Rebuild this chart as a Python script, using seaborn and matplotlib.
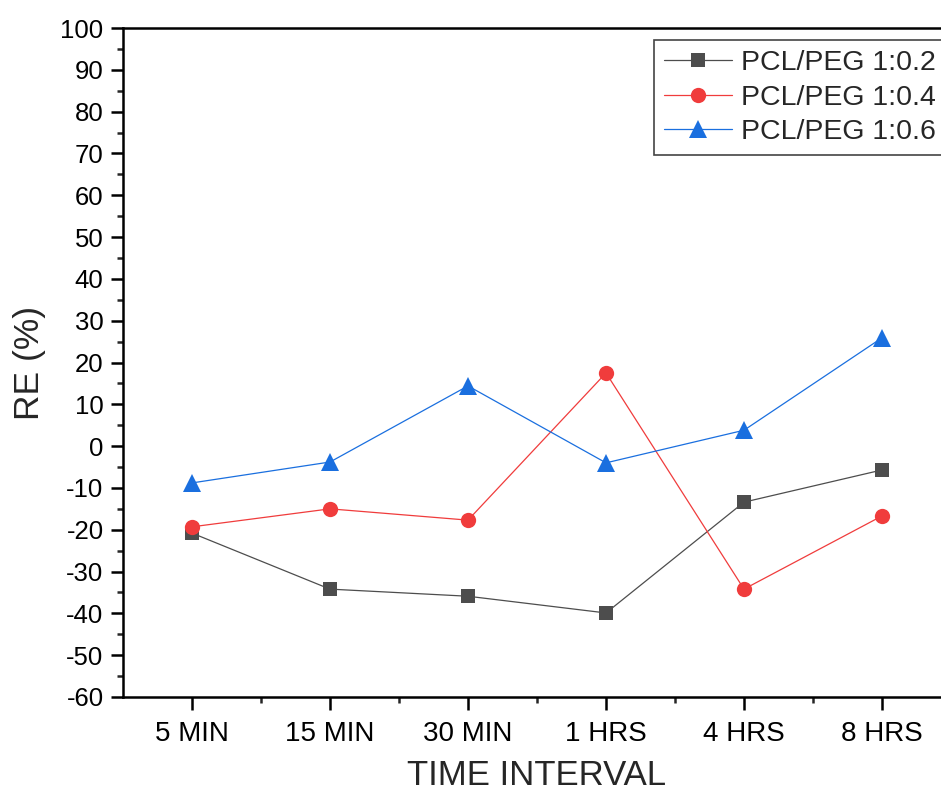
import numpy as np
import pandas as pd
import seaborn as sns
import matplotlib
matplotlib.use("Agg")
import matplotlib.pyplot as plt
from matplotlib.ticker import MultipleLocator, FixedLocator

categories = ["5 MIN", "15 MIN", "30 MIN", "1 HRS", "4 HRS", "8 HRS"]
series_names = ["PCL/PEG 1:0.2", "PCL/PEG 1:0.4", "PCL/PEG 1:0.6"]
re_02 = [-20.8, -34.2, -35.9, -39.9, -13.4, -5.7]
re_04 = [-19.3, -15.0, -17.7, 17.5, -34.2, -16.7]
re_06 = [-8.8, -3.8, 14.4, -4.0, 3.8, 25.9]
y_ticks = list(range(-60, 101, 10))

rows = []
for name, vals in zip(series_names, [re_02, re_04, re_06]):
    for i, v in enumerate(vals):
        rows.append({"x": i, "RE": v, "Series": name})
df = pd.DataFrame(rows)

sns.set_theme(style="ticks")
plt.rcParams["font.family"] = ["Liberation Sans", "DejaVu Sans"]
plt.rcParams["axes.unicode_minus"] = False

fig = plt.figure(figsize=(9.41, 7.95), dpi=100)
W, H = 941, 795
left, right, top, bottom = 123, 951, 28, 697
ax = fig.add_axes([left / W, 1 - bottom / H, (right - left) / W, (bottom - top) / H])

colors = ["#4d4d4d", "#f03c3c", "#1a6fdf"]
markers = ["s", "o", "^"]
msizes = [10, 11, 13]
for name, c, m, ms in zip(series_names, colors, markers, msizes):
    sub = df[df["Series"] == name]
    sns.lineplot(data=sub, x="x", y="RE", color=c, marker=m, markersize=ms,
                 markeredgewidth=0, linewidth=0.9, label=name, ax=ax)

ax.set_xlim(-0.5, 5.5)
ax.set_ylim(-60, 100)
ax.xaxis.set_major_locator(FixedLocator(range(len(categories))))
ax.set_xticklabels(categories)
ax.xaxis.set_minor_locator(FixedLocator([i + 0.5 for i in range(len(categories) - 1)]))
ax.set_yticks(y_ticks)
ax.yaxis.set_minor_locator(MultipleLocator(5))

for s in ax.spines.values():
    s.set_linewidth(1.8)
    s.set_color("black")
ax.tick_params(which="major", direction="out", length=9, width=1.8, colors="black")
ax.tick_params(which="minor", direction="out", length=4.5, width=1.8)
ax.tick_params(axis="y", labelsize=18.5, pad=5)
ax.tick_params(axis="x", labelsize=20, pad=8)

ax.set_xlabel("TIME INTERVAL", fontsize=25)
ax.set_ylabel("RE (%)", fontsize=25.5)
ax.xaxis.set_label_coords(0.5, -(759 - bottom) / (bottom - top))
ax.yaxis.set_label_coords((46 - left) / (right - left), 0.5)

leg = ax.legend(loc="upper left",
                bbox_to_anchor=((654 - left) / (right - left), 1 - (40 - top) / (bottom - top)),
                frameon=True, fancybox=False, fontsize=20.5, handlelength=2.4,
                borderpad=0.35, labelspacing=0.3, handletextpad=0.3, borderaxespad=0)
leg.get_frame().set_edgecolor("#444444")
leg.get_frame().set_linewidth(1.2)
leg.get_frame().set_alpha(1)

fig.savefig("out.png", dpi=100)
